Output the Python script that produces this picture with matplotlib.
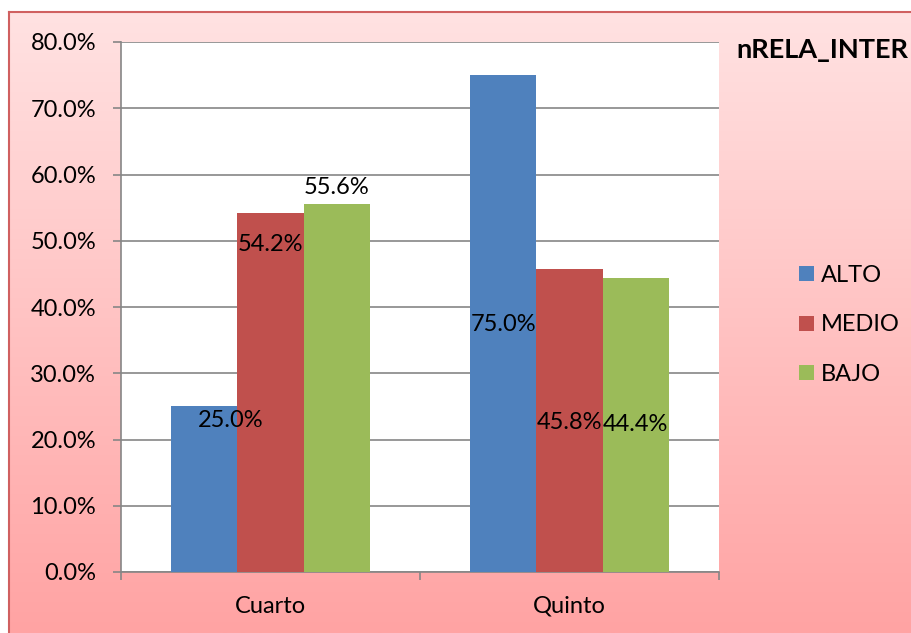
import numpy as np
import matplotlib
matplotlib.use("Agg")
import matplotlib.pyplot as plt
from matplotlib.colors import LinearSegmentedColormap
from matplotlib.ticker import FuncFormatter, FixedLocator

plt.rcParams['font.family'] = ['Lato', 'DejaVu Sans']

# data
categories = ['Cuarto', 'Quinto']
series = ['ALTO', 'MEDIO', 'BAJO']
alto = [25.0, 75.0]
medio = [54.2, 45.8]
bajo = [55.6, 44.4]
title = 'nRELA_INTER'

# where the data labels sit (Excel placed them oddly)
label_y = [[22.9, 37.3], [49.4, 22.6], [58.0, 22.2]]
label_dx = [[0.09, 0.0], [0.0, 0.0], [0.0, 0.0]]

colors = ['#4F81BD', '#C0504D', '#9BBB59']
fs = 17

fig = plt.figure(figsize=(9.11, 6.33), dpi=100)

# pink gradient background for the chart area
bg = fig.add_axes([9/911, 0, 1 - 9/911, 1 - 12/633], zorder=-5)
grad = np.linspace(0, 1, 256).reshape(-1, 1)
cmap = LinearSegmentedColormap.from_list('pinks', ['#FFE2E2', '#FFA3A3'])
bg.imshow(grad, aspect='auto', cmap=cmap, extent=[0, 1, 0, 1])
bg.set_xticks([])
bg.set_yticks([])
for s in ['right', 'bottom']:
    bg.spines[s].set_visible(False)
for s in ['top', 'left']:
    bg.spines[s].set_color('#D06060')
    bg.spines[s].set_linewidth(1.5)

ax = fig.add_axes([121/911, 61/633, 598/911, 530/633])
ax.set_facecolor('white')

x = np.arange(len(categories))
w = 0.222
vals = [alto, medio, bajo]
for i, (name, v) in enumerate(zip(series, vals)):
    pos = x + (i - 1) * w
    ax.bar(pos, v, width=w, color=colors[i], label=name, zorder=3)
    for j in range(len(categories)):
        ax.text(pos[j] + label_dx[i][j], label_y[i][j], '%.1f%%' % v[j],
                ha='center', va='center', fontsize=fs, zorder=5)

ax.set_xlim(-0.5, 1.5)
ax.set_ylim(0, 80)
ax.set_yticks(np.arange(0, 81, 10))
ax.yaxis.set_major_formatter(FuncFormatter(lambda v, p: '%.1f%%' % v))
ax.grid(axis='y', color='#868686', linewidth=1.2, zorder=0)
ax.set_axisbelow(True)

ax.set_xticks(x)
ax.set_xticklabels(categories)
ax.xaxis.set_minor_locator(FixedLocator([-0.5, 0.5, 1.5]))
ax.tick_params(axis='x', which='major', length=0, pad=17, labelsize=fs)
ax.tick_params(axis='x', which='minor', length=6, color='#868686', width=1.2)
ax.tick_params(axis='y', length=6, color='#868686', width=1.2, pad=12, labelsize=fs)

for s in ['top', 'right']:
    ax.spines[s].set_visible(False)
for s in ['left', 'bottom']:
    ax.spines[s].set_color('#868686')
    ax.spines[s].set_linewidth(1.2)

fig.text(736/911, 1 - 50/633, title, fontsize=19.5, fontweight='bold',
         ha='left', va='center')

leg = fig.legend(loc='center left', bbox_to_anchor=(790/911, 1 - 325/633),
                 frameon=False, fontsize=fs, handlelength=0.6, handleheight=0.6,
                 handletextpad=0.3, labelspacing=1.2, borderaxespad=0)

fig.savefig('out.png', dpi=100)
